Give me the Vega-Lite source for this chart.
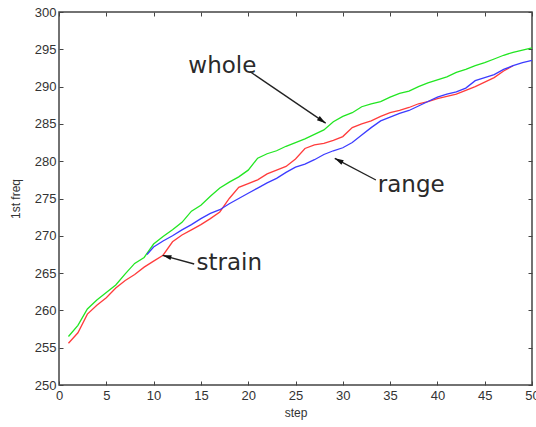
{
  "$schema": "https://vega.github.io/schema/vega-lite/v6.json",
  "autosize": "none",
  "width": 473,
  "height": 373,
  "padding": {"left": 59, "top": 12, "right": 4, "bottom": 42},
  "background": "white",
  "config": {
    "view": {"stroke": "#444", "strokeWidth": 1.5},
    "axis": {
      "grid": false,
      "domain": false,
      "tickColor": "#444",
      "tickSize": -4,
      "labelFont": "Liberation Sans",
      "labelFontSize": 13,
      "labelColor": "#333",
      "titleFont": "Liberation Sans",
      "titleFontSize": 12,
      "titleFontWeight": "normal",
      "titleColor": "#333"
    }
  },
  "datasets": {
    "lines": [
      {"step": 1, "freq": 256.5, "series": "whole"},
      {"step": 2, "freq": 258.0, "series": "whole"},
      {"step": 3, "freq": 260.2, "series": "whole"},
      {"step": 4, "freq": 261.4, "series": "whole"},
      {"step": 5, "freq": 262.4, "series": "whole"},
      {"step": 6, "freq": 263.4, "series": "whole"},
      {"step": 7, "freq": 264.9, "series": "whole"},
      {"step": 8, "freq": 266.3, "series": "whole"},
      {"step": 9, "freq": 267.1, "series": "whole"},
      {"step": 10, "freq": 268.9, "series": "whole"},
      {"step": 11, "freq": 269.9, "series": "whole"},
      {"step": 12, "freq": 270.8, "series": "whole"},
      {"step": 13, "freq": 271.8, "series": "whole"},
      {"step": 14, "freq": 273.3, "series": "whole"},
      {"step": 15, "freq": 274.1, "series": "whole"},
      {"step": 16, "freq": 275.3, "series": "whole"},
      {"step": 17, "freq": 276.4, "series": "whole"},
      {"step": 18, "freq": 277.2, "series": "whole"},
      {"step": 19, "freq": 277.9, "series": "whole"},
      {"step": 20, "freq": 278.8, "series": "whole"},
      {"step": 21, "freq": 280.4, "series": "whole"},
      {"step": 22, "freq": 281.0, "series": "whole"},
      {"step": 23, "freq": 281.4, "series": "whole"},
      {"step": 24, "freq": 282.0, "series": "whole"},
      {"step": 25, "freq": 282.5, "series": "whole"},
      {"step": 26, "freq": 283.0, "series": "whole"},
      {"step": 27, "freq": 283.6, "series": "whole"},
      {"step": 28, "freq": 284.2, "series": "whole"},
      {"step": 29, "freq": 285.3, "series": "whole"},
      {"step": 30, "freq": 286.0, "series": "whole"},
      {"step": 31, "freq": 286.5, "series": "whole"},
      {"step": 32, "freq": 287.3, "series": "whole"},
      {"step": 33, "freq": 287.7, "series": "whole"},
      {"step": 34, "freq": 288.0, "series": "whole"},
      {"step": 35, "freq": 288.6, "series": "whole"},
      {"step": 36, "freq": 289.1, "series": "whole"},
      {"step": 37, "freq": 289.4, "series": "whole"},
      {"step": 38, "freq": 290.0, "series": "whole"},
      {"step": 39, "freq": 290.5, "series": "whole"},
      {"step": 40, "freq": 290.9, "series": "whole"},
      {"step": 41, "freq": 291.3, "series": "whole"},
      {"step": 42, "freq": 291.9, "series": "whole"},
      {"step": 43, "freq": 292.3, "series": "whole"},
      {"step": 44, "freq": 292.8, "series": "whole"},
      {"step": 45, "freq": 293.2, "series": "whole"},
      {"step": 46, "freq": 293.7, "series": "whole"},
      {"step": 47, "freq": 294.2, "series": "whole"},
      {"step": 48, "freq": 294.6, "series": "whole"},
      {"step": 49, "freq": 294.9, "series": "whole"},
      {"step": 50, "freq": 295.2, "series": "whole"},
      {"step": 1, "freq": 255.6, "series": "strain"},
      {"step": 2, "freq": 257.0, "series": "strain"},
      {"step": 3, "freq": 259.5, "series": "strain"},
      {"step": 4, "freq": 260.7, "series": "strain"},
      {"step": 5, "freq": 261.7, "series": "strain"},
      {"step": 6, "freq": 263.0, "series": "strain"},
      {"step": 7, "freq": 264.0, "series": "strain"},
      {"step": 8, "freq": 264.8, "series": "strain"},
      {"step": 9, "freq": 265.8, "series": "strain"},
      {"step": 10, "freq": 266.6, "series": "strain"},
      {"step": 11, "freq": 267.4, "series": "strain"},
      {"step": 12, "freq": 269.2, "series": "strain"},
      {"step": 13, "freq": 270.1, "series": "strain"},
      {"step": 14, "freq": 270.8, "series": "strain"},
      {"step": 15, "freq": 271.5, "series": "strain"},
      {"step": 16, "freq": 272.3, "series": "strain"},
      {"step": 17, "freq": 273.2, "series": "strain"},
      {"step": 18, "freq": 275.0, "series": "strain"},
      {"step": 19, "freq": 276.5, "series": "strain"},
      {"step": 20, "freq": 277.0, "series": "strain"},
      {"step": 21, "freq": 277.5, "series": "strain"},
      {"step": 22, "freq": 278.3, "series": "strain"},
      {"step": 23, "freq": 278.8, "series": "strain"},
      {"step": 24, "freq": 279.3, "series": "strain"},
      {"step": 25, "freq": 280.3, "series": "strain"},
      {"step": 26, "freq": 281.7, "series": "strain"},
      {"step": 27, "freq": 282.2, "series": "strain"},
      {"step": 28, "freq": 282.4, "series": "strain"},
      {"step": 29, "freq": 282.8, "series": "strain"},
      {"step": 30, "freq": 283.3, "series": "strain"},
      {"step": 31, "freq": 284.5, "series": "strain"},
      {"step": 32, "freq": 285.0, "series": "strain"},
      {"step": 33, "freq": 285.4, "series": "strain"},
      {"step": 34, "freq": 286.0, "series": "strain"},
      {"step": 35, "freq": 286.5, "series": "strain"},
      {"step": 36, "freq": 286.8, "series": "strain"},
      {"step": 37, "freq": 287.2, "series": "strain"},
      {"step": 38, "freq": 287.7, "series": "strain"},
      {"step": 39, "freq": 288.0, "series": "strain"},
      {"step": 40, "freq": 288.4, "series": "strain"},
      {"step": 41, "freq": 288.7, "series": "strain"},
      {"step": 42, "freq": 289.0, "series": "strain"},
      {"step": 43, "freq": 289.5, "series": "strain"},
      {"step": 44, "freq": 290.0, "series": "strain"},
      {"step": 45, "freq": 290.6, "series": "strain"},
      {"step": 46, "freq": 291.2, "series": "strain"},
      {"step": 47, "freq": 292.1, "series": "strain"},
      {"step": 48, "freq": 292.8, "series": "strain"},
      {"step": 9.3, "freq": 267.5, "series": "range"},
      {"step": 10, "freq": 268.5, "series": "range"},
      {"step": 11, "freq": 269.3, "series": "range"},
      {"step": 12, "freq": 270.0, "series": "range"},
      {"step": 13, "freq": 270.8, "series": "range"},
      {"step": 14, "freq": 271.5, "series": "range"},
      {"step": 15, "freq": 272.3, "series": "range"},
      {"step": 16, "freq": 273.0, "series": "range"},
      {"step": 17, "freq": 273.5, "series": "range"},
      {"step": 18, "freq": 274.3, "series": "range"},
      {"step": 19, "freq": 275.0, "series": "range"},
      {"step": 20, "freq": 275.7, "series": "range"},
      {"step": 21, "freq": 276.4, "series": "range"},
      {"step": 22, "freq": 277.1, "series": "range"},
      {"step": 23, "freq": 277.7, "series": "range"},
      {"step": 24, "freq": 278.5, "series": "range"},
      {"step": 25, "freq": 279.2, "series": "range"},
      {"step": 26, "freq": 279.6, "series": "range"},
      {"step": 27, "freq": 280.2, "series": "range"},
      {"step": 28, "freq": 280.9, "series": "range"},
      {"step": 29, "freq": 281.4, "series": "range"},
      {"step": 30, "freq": 281.8, "series": "range"},
      {"step": 31, "freq": 282.5, "series": "range"},
      {"step": 32, "freq": 283.5, "series": "range"},
      {"step": 33, "freq": 284.5, "series": "range"},
      {"step": 34, "freq": 285.4, "series": "range"},
      {"step": 35, "freq": 285.9, "series": "range"},
      {"step": 36, "freq": 286.4, "series": "range"},
      {"step": 37, "freq": 286.8, "series": "range"},
      {"step": 38, "freq": 287.4, "series": "range"},
      {"step": 39, "freq": 288.0, "series": "range"},
      {"step": 40, "freq": 288.6, "series": "range"},
      {"step": 41, "freq": 289.0, "series": "range"},
      {"step": 42, "freq": 289.3, "series": "range"},
      {"step": 43, "freq": 289.8, "series": "range"},
      {"step": 44, "freq": 290.8, "series": "range"},
      {"step": 45, "freq": 291.2, "series": "range"},
      {"step": 46, "freq": 291.6, "series": "range"},
      {"step": 47, "freq": 292.3, "series": "range"},
      {"step": 48, "freq": 292.8, "series": "range"},
      {"step": 49, "freq": 293.2, "series": "range"},
      {"step": 50, "freq": 293.5, "series": "range"}
    ],
    "labels": [
      {"label": "whole", "x": 13.67, "y": 292.7},
      {"label": "range", "x": 33.7, "y": 276.8},
      {"label": "strain", "x": 14.54, "y": 266.4}
    ],
    "arrows": [
      {"label": "whole", "x": 20.2, "y": 292.0, "x2": 28.19, "y2": 285.1},
      {"label": "range", "x": 33.5, "y": 277.48, "x2": 29.15, "y2": 280.38},
      {"label": "strain", "x": 14.29, "y": 266.22, "x2": 10.95, "y2": 267.38}
    ]
  },
  "resolve": {"axis": {"x": "independent", "y": "independent"}},
  "layer": [
    {
      "data": {"name": "lines"},
      "mark": {"type": "line", "strokeWidth": 1.3, "interpolate": "linear"},
      "encoding": {
        "x": {"field": "step", "type": "quantitative",
              "scale": {"domain": [0, 50], "nice": false, "zero": false},
              "axis": {"title": "step", "values": [0,5,10,15,20,25,30,35,40,45,50], "labelPadding": 8, "titlePadding": 5, "labelFlush": false}},
        "y": {"field": "freq", "type": "quantitative",
              "scale": {"domain": [250, 300], "nice": false, "zero": false},
              "axis": {"title": "1st freq", "values": [250,255,260,265,270,275,280,285,290,295,300], "labelPadding": 7, "titlePadding": 12}},
        "color": {"field": "series", "type": "nominal",
                  "scale": {"domain": ["whole", "range", "strain"], "range": ["#22e622", "#3c3cff", "#ff3c3c"]},
                  "legend": null},
        "order": {"field": "step", "type": "quantitative"}
      }
    },
    {
      "data": {"name": "arrows"},
      "mark": {"type": "rule", "color": "#222", "strokeWidth": 1.3},
      "encoding": {
        "x": {"field": "x", "type": "quantitative", "axis": null},
        "y": {"field": "y", "type": "quantitative", "axis": null},
        "x2": {"field": "x2"},
        "y2": {"field": "y2"}
      }
    },
    {
      "data": {"name": "arrows"},
      "transform": [{"filter": "datum.label === 'whole'"}],
      "mark": {"type": "point", "shape": "M0,0L-0.4,1.4L0.4,1.4Z", "filled": true, "color": "#111", "opacity": 1, "size": 160, "angle": 124},
      "encoding": {
        "x": {"field": "x2", "type": "quantitative", "axis": null},
        "y": {"field": "y2", "type": "quantitative", "axis": null}
      }
    },
    {
      "data": {"name": "arrows"},
      "transform": [{"filter": "datum.label === 'range'"}],
      "mark": {"type": "point", "shape": "M0,0L-0.4,1.4L0.4,1.4Z", "filled": true, "color": "#111", "opacity": 1, "size": 160, "angle": 298},
      "encoding": {
        "x": {"field": "x2", "type": "quantitative", "axis": null},
        "y": {"field": "y2", "type": "quantitative", "axis": null}
      }
    },
    {
      "data": {"name": "arrows"},
      "transform": [{"filter": "datum.label === 'strain'"}],
      "mark": {"type": "point", "shape": "M0,0L-0.4,1.4L0.4,1.4Z", "filled": true, "color": "#111", "opacity": 1, "size": 160, "angle": 285},
      "encoding": {
        "x": {"field": "x2", "type": "quantitative", "axis": null},
        "y": {"field": "y2", "type": "quantitative", "axis": null}
      }
    },
    {
      "data": {"name": "labels"},
      "mark": {"type": "text", "font": "DejaVu Sans", "fontSize": 23, "align": "left", "baseline": "middle", "color": "#2a2a2a"},
      "encoding": {
        "x": {"field": "x", "type": "quantitative",
              "axis": {"orient": "top", "labels": false, "title": null, "values": [0,5,10,15,20,25,30,35,40,45,50]}},
        "y": {"field": "y", "type": "quantitative",
              "axis": {"orient": "right", "labels": false, "title": null, "values": [250,255,260,265,270,275,280,285,290,295,300]}},
        "text": {"field": "label"}
      }
    }
  ]
}
